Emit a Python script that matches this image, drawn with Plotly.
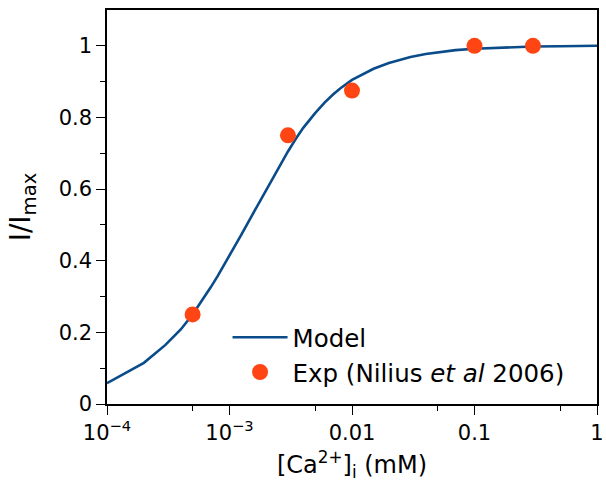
import plotly.graph_objects as go

# Model curve
model_x = [1e-4, 2e-4, 3e-4, 4e-4, 5e-4, 6e-4, 7e-4, 8e-4, 9e-4, 1e-3,
           1.25e-3, 1.5e-3, 1.75e-3, 2e-3, 2.5e-3, 3e-3, 3.5e-3, 4e-3, 5e-3, 6e-3,
           7e-3, 8e-3, 0.01, 0.0125, 0.015, 0.02, 0.025, 0.03, 0.04, 0.05,
           0.07, 0.1, 0.15, 0.2, 0.3, 0.5, 1.0]
model_y = [0.058, 0.115, 0.165, 0.208, 0.25, 0.29, 0.325, 0.357, 0.387, 0.415,
           0.473, 0.522, 0.563, 0.598, 0.658, 0.705, 0.742, 0.771, 0.812, 0.842,
           0.864, 0.881, 0.905, 0.923, 0.936, 0.952, 0.962, 0.969, 0.977, 0.982,
           0.988, 0.992, 0.995, 0.997, 0.998, 0.999, 1.0]

# Experimental points (Nilius et al 2006)
exp_x = [5e-4, 3e-3, 0.01, 0.1, 0.3]
exp_y = [0.25, 0.75, 0.875, 1.0, 1.0]

x_tickvals = [1e-4, 1e-3, 0.01, 0.1, 1]
x_ticktext = ["10<sup>\u22124</sup>", "10<sup>\u22123</sup>", "0.01", "0.1", "1"]
x_minor = [5e-4, 5e-3, 5e-2, 0.5]
y_tickvals = [0, 0.2, 0.4, 0.6, 0.8, 1.0]
y_ticktext = ["0", "0.2", "0.4", "0.6", "0.8", "1"]
y_minor = [0.1, 0.3, 0.5, 0.7, 0.9]

FONT = "DejaVu Sans"
BLUE = "#0a4b8a"
ORANGE = "#ff4513"

fig = go.Figure()
fig.add_trace(go.Scatter(x=model_x, y=model_y, mode="lines", name="Model",
                         line=dict(color=BLUE, width=2.6)))
fig.add_trace(go.Scatter(x=exp_x, y=exp_y, mode="markers",
                         name="Exp (Nilius <i>et al</i> 2006)",
                         marker=dict(color=ORANGE, size=16, line=dict(width=0))))

fig.update_layout(
    width=606, height=483,
    margin=dict(l=107, r=9, t=10, b=79),
    plot_bgcolor="white", paper_bgcolor="white",
    font=dict(family=FONT, size=21, color="black"),
    showlegend=True,
    legend=dict(x=0.246, y=0.125, xanchor="left", yanchor="middle",
                bgcolor="rgba(0,0,0,0)", font=dict(size=24.5, family=FONT),
                itemwidth=55, tracegroupgap=0),
)
fig.update_xaxes(
    type="log", range=[-4, 0], automargin=False,
    tickmode="array", tickvals=x_tickvals, ticktext=x_ticktext,
    ticks="outside", ticklen=9, tickwidth=1.3, tickcolor="black",
    showline=True, linecolor="black", linewidth=1.5, mirror=True,
    showgrid=False, zeroline=False,
    tickfont=dict(size=21, family=FONT),
    minor=dict(tickmode="array", tickvals=x_minor, ticks="outside",
               ticklen=5, tickwidth=1.1, tickcolor="black", showgrid=False),
    title=dict(text="[Ca<sup>2+</sup>]<sub>i</sub> (mM)",
               font=dict(size=24, family=FONT), standoff=12),
)
fig.update_yaxes(
    range=[0, 1.1], automargin=False,
    tickmode="array", tickvals=y_tickvals, ticktext=y_ticktext,
    ticks="outside", ticklen=9, tickwidth=1.3, tickcolor="black",
    showline=True, linecolor="black", linewidth=1.5, mirror=True,
    showgrid=False, zeroline=False,
    tickfont=dict(size=21, family=FONT),
    minor=dict(tickmode="array", tickvals=y_minor, ticks="outside",
               ticklen=5, tickwidth=1.1, tickcolor="black", showgrid=False),
    title=dict(text="I/I<sub>max</sub>", font=dict(size=28, family=FONT),
               standoff=20),
)

fig.write_html("out.html")
